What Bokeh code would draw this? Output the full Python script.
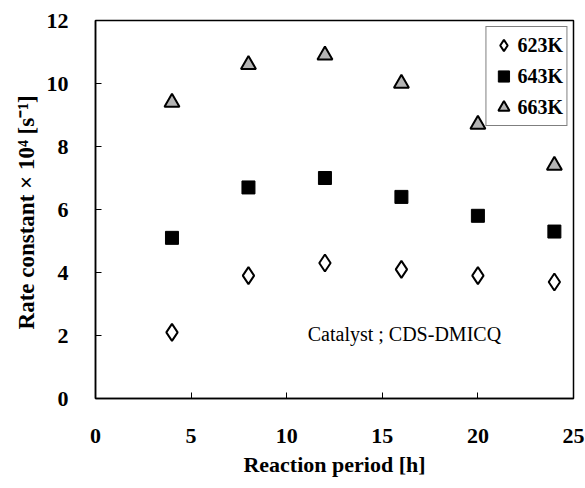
from bokeh.plotting import figure
from bokeh.models import Range1d, Legend, LegendItem, Label, FixedTicker
from bokeh.embed import file_html
from bokeh.resources import INLINE

hours = [4, 8, 12, 16, 20, 24]
k_623 = [2.1, 3.9, 4.3, 4.1, 3.9, 3.7]
k_643 = [5.1, 6.7, 7.0, 6.4, 5.8, 5.3]
k_663 = [9.4, 10.6, 10.9, 10.0, 8.7, 7.4]
series_labels = ["623K", "643K", "663K"]
x_ticks = [0, 5, 10, 15, 20, 25]
y_ticks = [0, 2, 4, 6, 8, 10, 12]
note_text = "Catalyst ; CDS-DMICQ"

FONT = "Liberation Serif"

p = figure(width=585, height=488, output_backend="svg", toolbar_location=None,
           x_range=Range1d(0, 25), y_range=Range1d(0, 12),
           min_border_left=95, min_border_right=12, min_border_top=20, min_border_bottom=90)
p.grid.visible = False
p.background_fill_color = "white"
p.border_fill_color = "white"
p.outline_line_color = "black"
p.outline_line_width = 1.5

for ax, ticks in ((p.xaxis, x_ticks), (p.yaxis, y_ticks)):
    ax.ticker = FixedTicker(ticks=ticks)
    ax.major_tick_in = 6
    ax.major_tick_out = 0
    ax.minor_tick_line_color = None
    ax.axis_line_color = "black"
    ax.axis_line_width = 1.5
    ax.major_tick_line_color = "black"
    ax.major_label_text_font = FONT
    ax.major_label_text_font_style = "bold"
    ax.major_label_text_font_size = "22px"
    ax.major_label_text_color = "black"
    ax.axis_label_text_font = FONT
    ax.axis_label_text_font_style = "bold"
    ax.axis_label_text_font_size = "22px"
    ax.axis_label_text_color = "black"

p.xaxis.axis_label = "Reaction period [h]"
p.xaxis.major_label_standoff = 30
p.xaxis.axis_label_standoff = 6
p.yaxis.axis_label = "Rate  constant \u00d7 10\u2074 [s\u207b\u00b9]"
p.yaxis.axis_label_text_font_size = "23px"
p.yaxis.major_label_standoff = 27
p.yaxis.axis_label_standoff = 5

r1 = p.scatter(hours, k_623, marker="diamond", size=17, fill_color="white",
               line_color="black", line_width=2)
r2 = p.scatter(hours, k_643, marker="square", size=13, fill_color="black",
               line_color="black", line_width=1)
r3 = p.scatter(hours, k_663, marker="triangle", size=15, fill_color="#b4b4b4",
               line_color="black", line_width=2)

legend = Legend(items=[LegendItem(label=series_labels[0], renderers=[r1]),
                       LegendItem(label=series_labels[1], renderers=[r2]),
                       LegendItem(label=series_labels[2], renderers=[r3])],
                location="top_right")
legend.label_text_font = FONT
legend.label_text_font_style = "bold"
legend.label_text_font_size = "20px"
legend.label_text_color = "black"
legend.border_line_color = "black"
legend.border_line_width = 1
legend.padding = 3
legend.spacing = 1
legend.glyph_width = 28
legend.glyph_height = 30
legend.label_standoff = 0
legend.margin = 6
p.add_layout(legend)

note = Label(x=11.1, y=2.06, x_units="data", y_units="data", text=note_text,
             text_font=FONT, text_font_size="20px", text_color="black",
             text_baseline="middle")
p.add_layout(note)

open("out.html", "w").write(file_html(p, INLINE))
